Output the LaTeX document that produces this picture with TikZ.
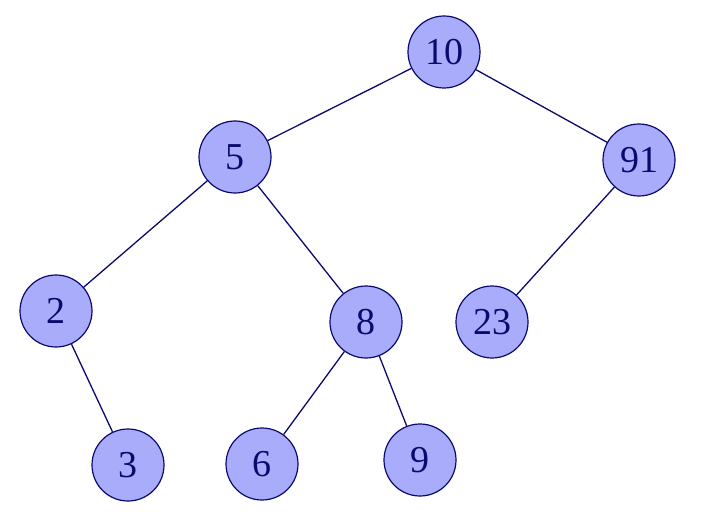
\documentclass[tikz,border=0pt]{standalone}
\usepackage{fontspec}
\setmainfont{Liberation Serif}
\definecolor{nodefill}{RGB}{168,172,250}
\definecolor{navyc}{RGB}{10,10,110}
\begin{document}
\begin{tikzpicture}[x=1pt,y=-1pt,
  tnode/.style={circle,draw=navyc,fill=nodefill,line width=1.2pt,minimum size=72pt,inner sep=0pt,text=navyc,font=\fontsize{38}{42}\selectfont},
  edge/.style={draw=navyc,line width=1.3pt}]
\useasboundingbox (0,0) rectangle (720,532);
\node[tnode] (n10) at (444,52) {10};
\node[tnode] (n5) at (235,157) {5};
\node[tnode] (n91) at (639,160) {91};
\node[tnode] (n2) at (56,311) {2};
\node[tnode] (n8) at (366,322) {8};
\node[tnode] (n23) at (492,322) {23};
\node[tnode] (n3) at (128,465) {3};
\node[tnode] (n6) at (262,464) {6};
\node[tnode] (n9) at (420,460) {9};
\draw[edge] (n10) -- (n5);
\draw[edge] (n10) -- (n91);
\draw[edge] (n5) -- (n2);
\draw[edge] (n5) -- (n8);
\draw[edge] (n91) -- (n23);
\draw[edge] (n2) -- (n3);
\draw[edge] (n8) -- (n6);
\draw[edge] (n8) -- (n9);
\end{tikzpicture}
\end{document}
